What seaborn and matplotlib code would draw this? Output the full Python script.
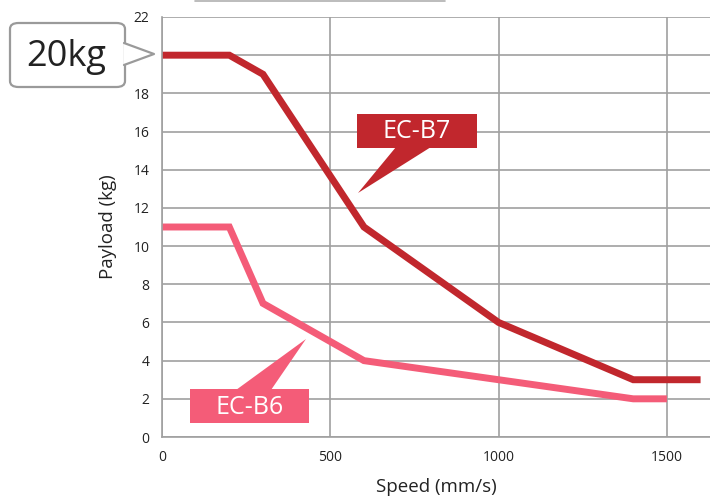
import pandas as pd
import numpy as np
import matplotlib.pyplot as plt
import seaborn as sns
from matplotlib.patches import Polygon, Rectangle, FancyBboxPatch

# 속도별 가반 중량 데이터
speed_b7 = [0, 200, 300, 600, 1000, 1400, 1600]
payload_b7 = [20, 20, 19, 11, 6, 3, 3]
speed_b6 = [0, 200, 300, 600, 1400, 1500]
payload_b6 = [11, 11, 7, 4, 2, 2]
models = ['EC-B7', 'EC-B6']
x_ticks = [0, 500, 1000, 1500]
y_ticks = list(range(0, 23, 2))
# 20 눈금 라벨은 말풍선에 가려져 보이지 않음
y_tick_labels = [str(v) if v != 20 else '' for v in y_ticks]

df = pd.concat([
    pd.DataFrame({'speed': speed_b7, 'payload': payload_b7, 'model': models[0]}),
    pd.DataFrame({'speed': speed_b6, 'payload': payload_b6, 'model': models[1]}),
])

sns.set_theme(style='white')
plt.rcParams['font.family'] = ['Open Sans', 'DejaVu Sans']

palette = {'EC-B7': '#c1272d', 'EC-B6': '#f45c78'}

W, H = 710, 498
fig = plt.figure(figsize=(W / 100, H / 100), dpi=100)
ax = fig.add_axes([162 / W, 1 - 437 / H, 1 - 162 / W, 420 / H])

sns.lineplot(data=df, x='speed', y='payload', hue='model', palette=palette,
             linewidth=5, legend=False, ax=ax, sort=False,
             solid_capstyle='butt', solid_joinstyle='miter')

ax.set_xlim(0, 1628)
ax.set_ylim(0, 22)
ax.set_xticks(x_ticks)
ax.set_yticks(y_ticks)
ax.set_yticklabels(y_tick_labels)
ax.grid(True, color='#a0a0a0', linewidth=1.2)
ax.set_axisbelow(True)
for s in ['top', 'right']:
    ax.spines[s].set_visible(False)
for s in ['left', 'bottom']:
    ax.spines[s].set_color('#a0a0a0')
    ax.spines[s].set_linewidth(1.2)
ax.tick_params(axis='both', labelsize=10, colors='#222222', length=0, pad=9)
ax.set_xlabel('Speed (mm/s)', fontsize=13.5, color='#222222', labelpad=10)
ax.set_ylabel('Payload (kg)', fontsize=13.5, color='#222222', labelpad=12)


# 말풍선은 그림 픽셀 좌표(위에서 아래로)로 그림
def px(x, y):
    return (x / W, 1 - y / H)


def tag(text, color, box, base, tip):
    x0, y0, x1, y1 = box
    fig.add_artist(Rectangle(px(x0, y1), (x1 - x0) / W, (y1 - y0) / H,
                             transform=fig.transFigure, fc=color, ec='none', zorder=5))
    fig.add_artist(Polygon([px(*base[0]), px(*base[1]), px(*tip)],
                           transform=fig.transFigure, fc=color, ec='none', zorder=5))
    fig.text(*px((x0 + x1) / 2, (y0 + y1) / 2 + 1), text, color='white', fontsize=18,
             ha='center', va='center', zorder=6)


tag('EC-B7', palette['EC-B7'], (357, 114, 477, 148),
    [(396, 147), (431, 147)], (358, 193))
tag('EC-B6', palette['EC-B6'], (190, 389, 309, 423),
    [(236, 390), (271, 390)], (306, 339))

# 최대 가반 중량 표시 (20kg)
edge = '#9a9a9a'
fig.add_artist(FancyBboxPatch(px(10, 87), 115 / W, 64 / H,
                              boxstyle='round,pad=0,rounding_size=0.012',
                              transform=fig.transFigure, fc='white', ec=edge,
                              lw=1.6, zorder=5))
fig.add_artist(Polygon([px(124, 43), px(156, 54), px(124, 65)],
                       transform=fig.transFigure, fc='white', ec='none', zorder=6))
fig.add_artist(plt.Line2D([124 / W, 154 / W, 124 / W],
                          [1 - 43 / H, 1 - 54 / H, 1 - 65 / H],
                          color=edge, lw=1.6, zorder=7))
fig.text(*px(66, 57), '20kg', fontsize=26, color='#222222',
         ha='center', va='center', zorder=8)

# 상단 장식선
fig.add_artist(plt.Line2D([195 / W, 445 / W], [0.998, 0.998], color='#b0b0b0', lw=1.2))

fig.savefig('out.png', dpi=100)
